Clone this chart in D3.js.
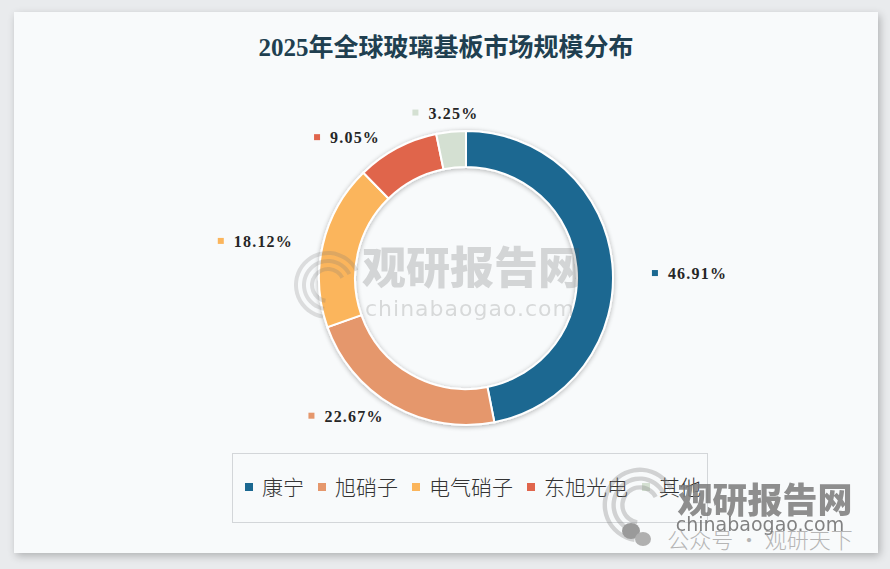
<!DOCTYPE html>
<html><head><meta charset="utf-8">
<script src="https://cdn.jsdelivr.net/npm/d3@7/dist/d3.min.js"></script>
<style>
html,body{margin:0;padding:0;background:#e9ebed;}
svg{display:block;}
</style></head>
<body>
<svg id="chart" width="890" height="569"></svg>
<script>
const title = "2025年全球玻璃基板市场规模分布";
const categories = ["康宁", "旭硝子", "电气硝子", "东旭光电", "其他"];
const shares = [46.91, 22.67, 18.12, 9.05, 3.25];
const colors = ["#1b6891", "#e5976c", "#fbb55c", "#e0654c", "#d4e0d2"];
// label layout: polar position (degrees clockwise from top, radius px) of each label marker
const labelAngles = [88.5, 228.3, 278.6, 313.4, 343];
const labelRadii = [189, 207, 248, 205, 173];

const W = 890, H = 569;
const svg = d3.select("#chart");
const defs = svg.append("defs");
const f = defs.append("filter").attr("id","sh").attr("x","-10%").attr("y","-10%").attr("width","120%").attr("height","120%");
f.append("feGaussianBlur").attr("in","SourceAlpha").attr("stdDeviation",4);
f.append("feOffset").attr("dx",2).attr("dy",3).attr("result","b");
f.append("feComponentTransfer").append("feFuncA").attr("type","linear").attr("slope",0.25);
const m = f.append("feMerge"); m.append("feMergeNode"); m.append("feMergeNode").attr("in","SourceGraphic");

const f2 = defs.append("filter").attr("id","rs").attr("x","-20%").attr("y","-20%").attr("width","140%").attr("height","140%");
f2.append("feGaussianBlur").attr("in","SourceAlpha").attr("stdDeviation",2.5);
f2.append("feOffset").attr("dx",0).attr("dy",1);
f2.append("feComponentTransfer").append("feFuncA").attr("type","linear").attr("slope",0.3);
const m2 = f2.append("feMerge"); m2.append("feMergeNode"); m2.append("feMergeNode").attr("in","SourceGraphic");

svg.append("rect").attr("x",0).attr("y",0).attr("width",W).attr("height",H).attr("fill","#e9ebed");
svg.append("rect").attr("x",14).attr("y",12).attr("width",864).attr("height",541)
  .attr("fill","#f8fafb").attr("filter","url(#sh)");

svg.append("text").attr("x",446).attr("y",56).attr("text-anchor","middle")
  .attr("font-family","'Liberation Serif','Noto Sans CJK SC',serif").attr("font-weight","bold")
  .attr("font-size",25).attr("fill","#203f50").text(title);

const cx = 466, cy = 278, R = 147, r = 111;
const pie = d3.pie().sort(null).value(d => d)(shares);
const arc = d3.arc().innerRadius(r).outerRadius(R);

const g = svg.append("g").attr("transform",`translate(${cx},${cy})`);

function swirl(sel, x, y, s, fill){
  [34,26,18].forEach(rr=>{
    sel.append("path").attr("transform",`translate(${x},${y}) scale(${s})`)
      .attr("d", d3.arc().innerRadius(rr-4).outerRadius(rr).startAngle(-Math.PI*0.95).endAngle(Math.PI*0.35)())
      .attr("fill",fill);
  });
}

// center watermark
const wm = svg.append("g").attr("opacity",0.22);
wm.append("text").attr("x",472).attr("y",284).attr("text-anchor","middle")
  .attr("font-family","'Noto Sans CJK SC'").attr("font-weight","900").attr("font-size",44).attr("fill","#555")
  .text("观研报告网");
wm.append("text").attr("x",470).attr("y",316).attr("text-anchor","middle")
  .attr("font-family","'DejaVu Sans',sans-serif").attr("font-size",22).attr("fill","#666").attr("letter-spacing",1)
  .text("chinabaogao.com");
swirl(wm, 328, 285, 1, "#777");

g.append("g").attr("filter","url(#rs)").selectAll("path").data(pie).join("path")
  .attr("d", arc).attr("fill",(d,i)=>colors[i]).attr("stroke","#ffffff").attr("stroke-width",2);

// labels
const lg = svg.append("g");
pie.forEach((d,i)=>{
  const a = labelAngles[i]*Math.PI/180, rad = labelRadii[i];
  const x = cx + rad*Math.sin(a), y = cy - rad*Math.cos(a);
  lg.append("rect").attr("x",x-3).attr("y",y-3).attr("width",6).attr("height",6).attr("fill",colors[i]);
  lg.append("text").attr("x",x+13).attr("y",y+6)
    .attr("font-family","'Liberation Serif',serif").attr("font-weight","bold").attr("font-size",16)
    .attr("letter-spacing",1.2).attr("fill","#262626")
    .text(d3.format(".2f")(shares[i]) + "%");
});

// legend
svg.append("rect").attr("x",232.5).attr("y",453.5).attr("width",475).attr("height",69)
  .attr("fill","none").attr("stroke","#d3d6d9").attr("stroke-width",1);
const legend = svg.append("g");
let lx = 245;
categories.forEach((c,i)=>{
  legend.append("rect").attr("x",lx).attr("y",483).attr("width",8).attr("height",8).attr("fill",colors[i]);
  const t = legend.append("text").attr("x",lx+17).attr("y",495)
    .attr("font-family","'Noto Sans CJK SC',sans-serif").attr("font-weight","300").attr("font-size",21).attr("fill","#333")
    .text(c);
  lx += 17 + t.node().getComputedTextLength() + 14;
});

// bottom-right watermark
const wm2 = svg.append("g");
swirl(wm2.append("g").attr("opacity",0.35), 640, 505, 1.1, "#8a8a8a");
wm2.append("text").attr("x",765).attr("y",513).attr("text-anchor","middle")
  .attr("font-family","'Noto Sans CJK SC'").attr("font-weight","900").attr("font-size",35).attr("fill","#7c7c7c").attr("opacity",0.85)
  .text("观研报告网");
wm2.append("text").attr("x",760).attr("y",548).attr("text-anchor","middle")
  .attr("font-family","'Noto Sans CJK SC'").attr("font-weight","300").attr("font-size",22).attr("fill","#b5b5b5")
  .text("公众号 · 观研天下");
wm2.append("text").attr("x",760).attr("y",531).attr("text-anchor","middle")
  .attr("font-family","'DejaVu Sans',sans-serif").attr("font-size",19).attr("fill","#6d6d6d").attr("opacity",0.85)
  .text("chinabaogao.com");
wm2.append("ellipse").attr("cx",631).attr("cy",531).attr("rx",9).attr("ry",8).attr("fill","#9a9a9a");
wm2.append("ellipse").attr("cx",643).attr("cy",539).attr("rx",8).attr("ry",7).attr("fill","#b0b0b0");
</script>
</body></html>
